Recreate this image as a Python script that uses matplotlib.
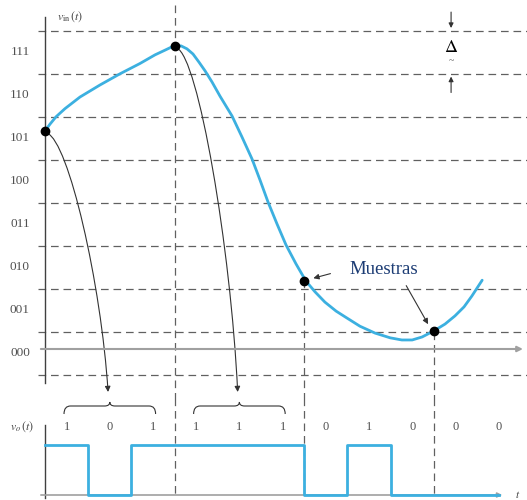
import numpy as np
import matplotlib.pyplot as plt
from matplotlib.path import Path
from matplotlib.patches import PathPatch, FancyArrowPatch

plt.rcParams['font.family'] = ['Liberation Serif', 'DejaVu Serif']
plt.rcParams['mathtext.fontset'] = 'stix'
plt.rcParams['lines.scale_dashes'] = False

# v_in(t): t in bit periods, v in units of Delta
curve_t = [0.0, 0.116, 0.255, 0.463, 0.81, 1.273, 1.736, 2.199, 2.546, 2.778,
           2.986, 3.148, 3.287, 3.426, 3.565, 3.704, 3.866, 4.051, 4.329, 4.56,
           4.792, 4.977, 5.162, 5.37, 5.579, 5.81, 6.04, 6.25, 6.48, 6.74,
           6.99, 7.29, 7.64, 7.99, 8.26, 8.5, 8.73, 9.0, 9.26, 9.49,
           9.7, 9.88, 10.12]
curve_v = [5.07, 5.23, 5.4, 5.59, 5.86, 6.14, 6.4, 6.64, 6.84, 6.95,
           7.05, 7.05, 6.98, 6.86, 6.67, 6.47, 6.21, 5.88, 5.42, 4.93,
           4.42, 3.93, 3.42, 2.91, 2.42, 1.98, 1.58, 1.33, 1.09, 0.88,
           0.72, 0.53, 0.37, 0.26, 0.21, 0.21, 0.28, 0.42, 0.58, 0.77,
           0.98, 1.23, 1.6]

sample_t = [0, 3, 6, 9]
sample_v = [5.07, 7.05, 1.58, 0.42]

codes = ['000', '001', '010', '011', '100', '101', '110', '111']
level_edges = [-0.6, 0.4, 1.4, 2.4, 3.4, 4.4, 5.4, 6.4, 7.4]

bits = [1, 0, 1, 1, 1, 1, 0, 1, 0, 0, 0]
wave_end = 10.5

blue = '#3cb0e0'
dash_col = '#606060'
txt_col = '#505050'

fig = plt.figure(figsize=(5.27, 5.0), dpi=100)
x_lim = (-45 / 43.2, 482 / 43.2)

# ---- top panel: analog signal and quantisation levels
ax = fig.add_axes([0, 0.2, 1, 0.8])
ax.set_xlim(*x_lim)
ax.set_ylim(-51 / 43, 349 / 43)
ax.axis('off')

for e in level_edges:
    ax.plot([-0.16, x_lim[1]], [e, e], color=dash_col, lw=0.9, dashes=(5.5, 3.5))
for i, c in enumerate(codes):
    mid = (level_edges[i] + level_edges[i + 1]) / 2
    ax.text(-0.58, mid, c, ha='center', va='center', fontsize=9.5, color=txt_col)

# axes
ax.plot([0, 0], [-0.8, 7.72], color='#404040', lw=1)
ax.annotate('', xy=(x_lim[1] - 0.03, 0), xytext=(-0.16, 0),
            arrowprops=dict(arrowstyle='-|>', color='#a0a0a0', lw=1.5, mutation_scale=8))
ax.text(0.58, 7.72, r'$v_{\rm in}\,(t)$', ha='center', va='center', fontsize=8.5, color='#404040')

# vertical dashed sample lines
ax.plot([3, 3], [8.0, -1.2], color=dash_col, lw=0.9, dashes=(5.5, 3.5))
ax.plot([6, 6], [1.6, -1.2], color=dash_col, lw=0.9, dashes=(5.5, 3.5))
ax.plot([9, 9], [0.4, -1.2], color=dash_col, lw=0.9, dashes=(5.5, 3.5))

ax.plot(curve_t, curve_v, color=blue, lw=2, solid_capstyle='round',
        solid_joinstyle='round', zorder=3)
ax.plot(sample_t, sample_v, 'o', color='black', ms=6, zorder=4)

# curved arrows from first two samples to the bit groups
for k in range(2):
    t0, v0 = sample_t[k], sample_v[k]
    tc = 1.5 + 3 * k
    vend = -1.0
    verts = [(t0 + 0.05, v0 - 0.05), (t0 + 0.55, v0 - 0.25),
             (tc - 0.2, (v0 + vend) * 0.42 - 0.2), (tc - 0.04, vend)]
    p = Path(verts, [Path.MOVETO, Path.CURVE4, Path.CURVE4, Path.CURVE4])
    ax.add_patch(FancyArrowPatch(path=p, arrowstyle='-|>', mutation_scale=8,
                                 color='#333333', lw=0.8, zorder=2))

# Muestras label
ax.text(7.85, 1.86, 'Muestras', ha='center', va='center', fontsize=13.5, color='#1c3c74')
ax.annotate('', xy=(6.15, 1.63), xytext=(6.67, 1.77),
            arrowprops=dict(arrowstyle='-|>', color='#333333', lw=0.8, mutation_scale=8))
ax.annotate('', xy=(8.9, 0.52), xytext=(8.33, 1.53),
            arrowprops=dict(arrowstyle='-|>', color='#333333', lw=0.8, mutation_scale=8))

# Delta marker
ax.annotate('', xy=(9.4, 7.4), xytext=(9.4, 7.9),
            arrowprops=dict(arrowstyle='-|>', color='#333333', lw=0.8, mutation_scale=7))
ax.annotate('', xy=(9.4, 6.4), xytext=(9.4, 5.9),
            arrowprops=dict(arrowstyle='-|>', color='#333333', lw=0.8, mutation_scale=7))
ax.text(9.4, 7.02, r'$\Delta$', ha='center', va='center', fontsize=13, color='black')
ax.text(9.4, 6.7, '~', ha='center', va='center', fontsize=7, color='#555555')

# ---- bottom panel: PCM bit stream
bx = fig.add_axes([0, 0, 1, 0.2])
bx.set_xlim(*x_lim)
bx.set_ylim(-0.1, 1.9)
bx.axis('off')

bx.plot([0, 0], [-0.06, 1.4], color='#404040', lw=1)
bx.annotate('', xy=(10.65, 0), xytext=(-0.16, 0),
            arrowprops=dict(arrowstyle='-|>', color='#a0a0a0', lw=1.2, mutation_scale=7))
bx.text(10.95, 0, r'$t$', ha='center', va='center', fontsize=8, color='#404040')
bx.text(-0.53, 1.36, r'$v_{o}\,(t)$', ha='center', va='center', fontsize=8.5, color='#404040')

for tv in [3, 6, 9]:
    bx.plot([tv, tv], [1.95, 0], color=dash_col, lw=0.9, dashes=(5.5, 3.5))

edges = list(range(len(bits))) + [wave_end]
levels = bits + [bits[-1]]
bx.step(edges, levels, where='post', color=blue, lw=2, zorder=3)

for i, b in enumerate(bits):
    bx.text(i + 0.5, 1.36, str(b), ha='center', va='center', fontsize=9, color=txt_col)

# braces over the first two 3-bit groups
for k in range(2):
    xc = 1.5 + 3 * k
    x0, x1 = xc - 1.06, xc + 1.06
    yb, ym, yt = 1.62, 1.78, 1.86
    verts = [(x0, yb), (x0, ym), (x0 + 0.15, ym), (xc - 0.12, ym), (xc, ym), (xc, yt),
             (xc, ym), (xc + 0.12, ym), (x1 - 0.15, ym), (x1, ym), (x1, yb)]
    cds = [Path.MOVETO, Path.CURVE3, Path.CURVE3, Path.LINETO, Path.CURVE3, Path.CURVE3,
           Path.CURVE3, Path.CURVE3, Path.LINETO, Path.CURVE3, Path.CURVE3]
    bx.add_patch(PathPatch(Path(verts, cds), fill=False, color='#333333', lw=0.8))

fig.savefig('out.png', dpi=100)
